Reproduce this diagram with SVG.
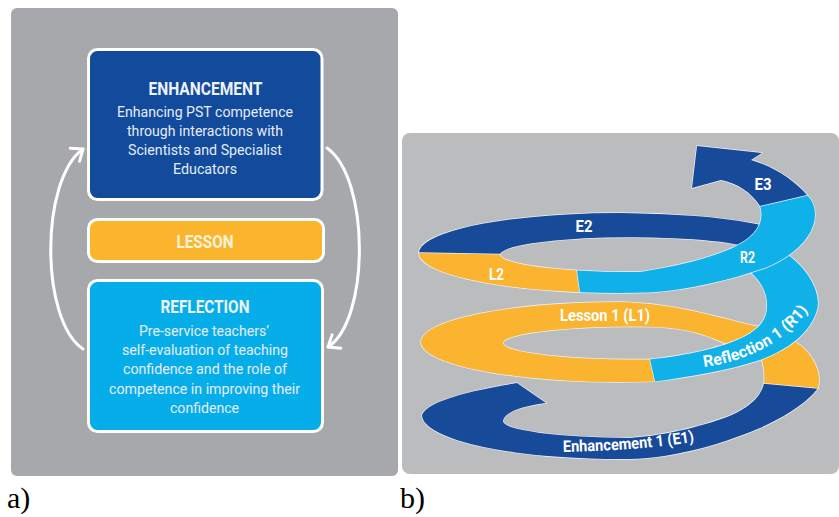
<svg xmlns="http://www.w3.org/2000/svg" width="839" height="517" viewBox="0 0 839 517">
  <style>
    .panelA { fill: #a7a8ab; }
    .panelB { fill: #bbbcbe; }
    .box { stroke: #ffffff; stroke-width: 3; }
    .enh { fill: #124a9c; }
    .les { fill: #fbb52c; }
    .ref { fill: #06aee9; }
    .ttl { font-family: Roboto, "Liberation Sans", sans-serif; font-weight: 700; fill: #eef2fa; text-anchor: middle; }
    .body { font-family: Roboto, "Liberation Sans", sans-serif; font-weight: 400; fill: #e6ecf7; text-anchor: middle; font-size: 15.5px; }
    .loop { fill: none; stroke: #ffffff; stroke-width: 3; stroke-linecap: round; }
    .band { stroke: #eef2f6; stroke-width: 1.4; paint-order: stroke; stroke-linejoin: round; }
    .dk { fill: #184a9a; }
    .or { fill: #fbb430; }
    .lb { fill: #10b1e9; }
    .lbl { font-family: Roboto, "Liberation Sans", sans-serif; font-weight: 700; fill: #ffffff; font-size: 16px; }
    .cap { font-family: "Liberation Serif", "Times New Roman", serif; font-size: 30px; fill: #000000; }
  </style>
  <defs>
    <marker id="chev" viewBox="-12 -10 14 20" markerWidth="14" markerHeight="20" refX="0" refY="0" orient="auto" markerUnits="userSpaceOnUse">
      <path d="M -10,-8 L 0,0 L -10,8" fill="none" stroke="#ffffff" stroke-width="3" stroke-linecap="round" stroke-linejoin="round"/>
    </marker>
    <path id="r1path" d="M 704,367 C 740,362 780,348 810,308"/>
    <path id="e1path" d="M 563,452 C 610,451 660,448 697,441"/>
  </defs>

  <!-- a) linear cycle -->
  <g id="panel-a">
    <rect class="panelA" x="11" y="8" width="387" height="468" rx="6"/>

    <g id="node-enhancement">
      <rect class="box enh" x="88.5" y="49.5" width="233.5" height="150" rx="9"/>
      <text class="ttl" x="205.5" y="94.5" font-size="17.7" textLength="114" lengthAdjust="spacingAndGlyphs">ENHANCEMENT</text>
      <text class="body" x="205" y="117" textLength="176" lengthAdjust="spacingAndGlyphs">Enhancing PST competence</text>
      <text class="body" x="205" y="136" textLength="156" lengthAdjust="spacingAndGlyphs">through interactions with</text>
      <text class="body" x="205" y="155" textLength="154" lengthAdjust="spacingAndGlyphs">Scientists and Specialist</text>
      <text class="body" x="205" y="174" textLength="64" lengthAdjust="spacingAndGlyphs">Educators</text>
    </g>

    <g id="node-lesson">
      <rect class="box les" x="88.5" y="219.5" width="235" height="42" rx="9"/>
      <text class="ttl" x="205" y="248" font-size="18.5" style="fill:#fdf3dc" textLength="57" lengthAdjust="spacingAndGlyphs">LESSON</text>
    </g>

    <g id="node-reflection">
      <rect class="box ref" x="88.5" y="280.5" width="234" height="151" rx="9"/>
      <text class="ttl" x="205" y="312.7" font-size="17.7" textLength="89" lengthAdjust="spacingAndGlyphs">REFLECTION</text>
      <text class="body" x="204" y="336" textLength="130" lengthAdjust="spacingAndGlyphs">Pre-service teachers’</text>
      <text class="body" x="205" y="355" textLength="166" lengthAdjust="spacingAndGlyphs">self-evaluation of teaching</text>
      <text class="body" x="205" y="374" textLength="164" lengthAdjust="spacingAndGlyphs">confidence and the role of</text>
      <text class="body" x="204.5" y="393.5" textLength="191" lengthAdjust="spacingAndGlyphs">competence in improving their</text>
      <text class="body" x="204.5" y="413" textLength="69" lengthAdjust="spacingAndGlyphs">confidence</text>
    </g>

    <g id="connectors">
      <path class="loop" d="M 83,349 C 40,320 40,180 83,149" marker-end="url(#chev)"/>
      <path class="loop" d="M 327,148 C 370,178 370,320 328,347" marker-end="url(#chev)"/>
    </g>
  </g>

  <!-- b) spiral -->
  <g id="panel-b">
    <rect class="panelB" x="402" y="133" width="437" height="341" rx="8"/>

    <g id="turn-1">
      <path id="seg-e1" class="band dk" d="M 517,383 C 475,390 428,400 422,415 A 198 44 0 0 0 630,459 C 670,458 715,447 760,428 C 785,417 808,402 818,388 L 764,383 C 762,395 750,408 727,417 C 705,425 670,435 630,438 A 130 17 0 0 1 503,421 C 504,414 516,407 546,403 Z"/>
      <path id="seg-l1" class="band or" d="M 764,383 L 818,388 C 822,375 815,357 800,345 C 785,333 768,328 750,325 C 715,316 670,303 620,302 A 199 40 0 0 0 421,342 A 199 40 0 0 0 655,381.4 L 650,359.4 A 130 16.5 0 0 1 503,343 A 130 16.5 0 0 1 660,326.9 C 685,329 705,334 722,342 C 738,349 755,354 762,360 C 764,368 765,376 764,383 Z"/>
      <path id="seg-r1" class="band lb" d="M 650,359.4 L 655,381.4 C 690,377 730,370 760,360 C 787,350 810,334 817,310 C 822,292 806,266 785,253 L 735,262 C 755,272 768,288 767,307 C 767,320 758,331 737,340 C 718,348 690,355 650,359.4 Z"/>
    </g>

    <g id="turn-2">
      <path id="seg-e2" class="band dk" d="M 419,253 A 200 40 0 0 1 792,233 L 752,248 A 131 17.5 0 0 0 500,254.5 Z"/>
      <path id="seg-l2" class="band or" d="M 419,253 A 200 40 0 0 0 580,292.2 L 577,270.4 A 131 17.5 0 0 1 500,254.5 Z"/>
      <path id="seg-r2" class="band lb" d="M 580,292.2 A 200 40 0 0 0 650,292.5 C 690,290 730,280 765,268 C 795,256 815,235 815,215 C 815,206 812,200 807,195 L 760,206 C 764,218 760,231 745,241 C 725,254 690,264 640,272 A 131 17.5 0 0 1 577,270.4 Z"/>
      <path id="seg-e3" class="band dk" d="M 807,195 C 795,181 775,167 751,160 L 762,153 L 697,146 L 692,188 L 721,180 C 737,183 752,193 760,206 Z"/>
    </g>

    <g id="spiral-labels">
      <text class="lbl" x="763" y="190" text-anchor="middle" textLength="17" lengthAdjust="spacingAndGlyphs">E3</text>
      <text class="lbl" x="584" y="232" text-anchor="middle" textLength="17" lengthAdjust="spacingAndGlyphs">E2</text>
      <text class="lbl" x="496.5" y="280" text-anchor="middle" textLength="15" lengthAdjust="spacingAndGlyphs">L2</text>
      <text class="lbl" x="747.5" y="263" text-anchor="middle" textLength="15" lengthAdjust="spacingAndGlyphs">R2</text>
      <text class="lbl" x="605" y="321" text-anchor="middle" textLength="90" lengthAdjust="spacingAndGlyphs">Lesson 1 (L1)</text>
      <text class="lbl"><textPath href="#r1path" textLength="122" lengthAdjust="spacingAndGlyphs">Reflection 1 (R1)</textPath></text>
      <text class="lbl"><textPath href="#e1path" textLength="132" lengthAdjust="spacingAndGlyphs">Enhancement 1 (E1)</textPath></text>
    </g>
  </g>

  <text class="cap" x="7" y="508">a)</text>
  <text class="cap" x="400" y="508">b)</text>
</svg>
